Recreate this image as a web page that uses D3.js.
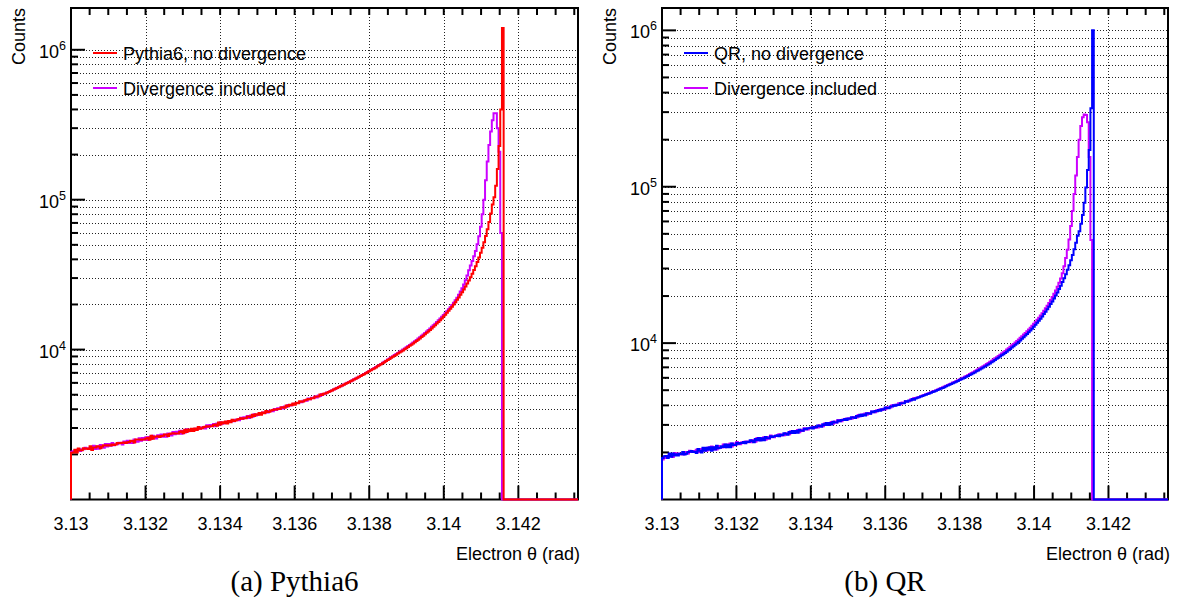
<!DOCTYPE html>
<html>
<head>
<meta charset="utf-8">
<script src="https://cdn.jsdelivr.net/npm/d3@7"></script>
<style>
  html, body { margin: 0; padding: 0; background: #fff; }
  svg { display: block; }
  .sans { font-family: "Liberation Sans", Arial, Helvetica, sans-serif; }
  .serif { font-family: "Liberation Serif", "Times New Roman", serif; }
</style>
</head>
<body>
<svg id="chart" width="1177" height="607"></svg>
<script>
// Histogram binning: 300 equal bins over the theta range (rad)
const thetaMin = 3.13;
const thetaMax = 3.1436;
const nBins = 300;

const xMajorTicks = [3.13, 3.132, 3.134, 3.136, 3.138, 3.14, 3.142];
const xTickLabels = ["3.13", "3.132", "3.134", "3.136", "3.138", "3.14", "3.142"];
const yDecadeTicks = [1e4, 1e5, 1e6];
const yDecadeExponents = ["4", "5", "6"];

// Bin contents (counts per bin, starting at 3.13); bins not listed are empty
const pythiaNoDiv = [
  2050,2060,2150,2060,2190,2130,2130,2200,2180,2190,
  2170,2270,2140,2220,2220,2270,2260,2200,2260,2300,
  2300,2290,2300,2290,2330,2310,2330,2380,2370,2380,
  2390,2400,2380,2410,2420,2470,2460,2400,2510,2510,
  2510,2500,2510,2510,2550,2580,2500,2660,2540,2620,
  2630,2640,2610,2650,2660,2710,2710,2650,2730,2760,
  2770,2760,2760,2760,2820,2850,2770,2920,2820,2930,
  2860,2970,2860,2980,2910,3050,2960,2990,3030,3060,
  3080,3070,3080,3080,3140,3170,3110,3260,3170,3270,
  3220,3320,3210,3340,3280,3410,3340,3360,3420,3450,
  3480,3460,3490,3490,3560,3580,3540,3680,3610,3710,
  3670,3770,3680,3800,3760,3890,3830,3850,3930,3950,
  3990,3980,4020,4020,4110,4130,4100,4240,4190,4290,
  4260,4370,4290,4420,4380,4520,4480,4500,4600,4620,
  4690,4670,4740,4730,4850,4870,4860,5010,4980,5080,
  5090,5160,5210,5280,5340,5410,5470,5540,5610,5690,
  5760,5830,5910,5980,6060,6140,6230,6310,6400,6480,
  6580,6670,6760,6860,6960,7060,7160,7270,7380,7490,
  7610,7730,7850,7980,8110,8240,8380,8520,8660,8810,
  8960,9100,9250,9400,9550,9710,9870,10040,10220,10400,
  10590,10780,10980,11190,11410,11640,11880,12120,12380,12650,
  12930,13220,13530,13850,14180,14530,14910,15300,15710,16140,
  16600,17080,17600,18140,18720,19340,20000,20710,21480,22290,
  23180,24140,25180,26310,27550,28910,30410,32080,33950,36040,
  38410,41110,44220,47840,52100,57200,63400,71100,81000,93000,
  104000,124000,160000,228000,400000,1400000
];
const pythiaDiv = [
  2080,2100,2130,2140,2160,2110,2160,2160,2210,2190,
  2170,2210,2230,2280,2170,2260,2180,2310,2270,2210,
  2350,2260,2350,2280,2380,2300,2340,2340,2390,2380,
  2330,2440,2380,2470,2380,2460,2380,2510,2450,2430,
  2560,2470,2570,2500,2600,2490,2610,2530,2660,2600,
  2550,2680,2620,2710,2620,2710,2620,2760,2740,2670,
  2820,2720,2830,2760,2870,2750,2880,2800,2940,2850,
  2880,2920,2950,2960,2950,2960,2960,3020,3050,2980,
  3130,3040,3140,3090,3190,3080,3210,3140,3270,3200,
  3220,3280,3300,3330,3310,3340,3330,3400,3420,3380,
  3510,3440,3540,3500,3600,3500,3630,3570,3700,3640,
  3660,3730,3760,3800,3770,3820,3810,3900,3910,3880,
  4020,3960,4060,4030,4130,4050,4180,4140,4270,4230,
  4250,4330,4360,4410,4400,4450,4460,4550,4580,4560,
  4710,4660,4770,4760,4870,4800,4940,4910,5060,5030,
  5100,5170,5220,5290,5350,5420,5480,5560,5620,5700,
  5770,5850,5920,6000,6070,6160,6240,6330,6410,6500,
  6600,6690,6780,6880,6980,7090,7190,7300,7410,7530,
  7650,7770,7890,8020,8160,8290,8430,8580,8730,8880,
  9040,9190,9340,9500,9660,9830,10000,10170,10360,10550,
  10750,10950,11160,11380,11610,11850,12100,12360,12630,12910,
  13210,13520,13840,14180,14530,14900,15280,15680,16100,16540,
  17000,17480,18000,18560,19150,19800,20500,21300,22200,23200,
  24400,25700,27200,29000,31200,33800,36400,39000,42000,45500,
  50500,57000,66000,80000,100000,135000,180000,232000,285000,339000,
  377000,377000,300000,209000,60000,0
];
const qrNoDiv = [
  1840,1890,1900,1840,1970,1880,1970,1910,1950,1910,
  1960,1950,2010,1940,1960,2010,2020,2040,2010,2020,
  1980,2100,2050,2000,2140,2050,2140,2080,2160,2050,
  2160,2090,2210,2130,2140,2190,2170,2250,2160,2240,
  2160,2280,2230,2230,2300,2270,2300,2300,2330,2290,
  2340,2330,2390,2370,2320,2440,2390,2470,2380,2460,
  2390,2510,2460,2460,2540,2510,2540,2550,2580,2540,
  2590,2580,2650,2630,2590,2700,2660,2740,2660,2740,
  2670,2790,2750,2750,2830,2810,2850,2850,2890,2840,
  2910,2900,2970,2950,2920,3030,2990,3080,3000,3080,
  3020,3140,3110,3110,3200,3170,3220,3220,3270,3220,
  3290,3280,3360,3340,3320,3420,3400,3480,3420,3490,
  3450,3560,3550,3540,3650,3610,3680,3670,3740,3690,
  3780,3760,3870,3840,3830,3940,3940,4010,3970,4040,
  4020,4130,4130,4130,4250,4220,4300,4300,4390,4340,
  4430,4470,4510,4550,4590,4640,4680,4720,4770,4820,
  4870,4910,4960,5020,5070,5120,5170,5230,5290,5350,
  5410,5470,5530,5590,5660,5730,5800,5870,5940,6010,
  6090,6170,6250,6330,6420,6500,6600,6690,6780,6880,
  6980,7090,7200,7310,7420,7540,7670,7790,7930,8060,
  8200,8350,8500,8660,8820,8990,9170,9360,9550,9750,
  9960,10180,10410,10650,10900,11170,11440,11740,12040,12370,
  12710,13090,13480,13900,14340,14820,15330,15870,16450,17080,
  17760,18490,19290,20150,21100,22150,23300,24580,26000,27610,
  29420,31490,33870,36650,39910,43820,48570,52000,58000,66000,
  79000,99000,128000,172000,318000,1000000
];
const qrDiv = [
  1800,1840,1890,1880,1940,1920,1870,1980,1940,1970,
  1950,1960,1940,2010,1970,1970,2050,2010,2040,2040,
  2080,2010,2100,2040,2110,2090,2050,2150,2100,2180,
  2090,2160,2090,2200,2160,2150,2250,2160,2250,2190,
  2280,2180,2280,2220,2330,2260,2260,2320,2320,2350,
  2320,2350,2320,2390,2400,2340,2470,2390,2470,2420,
  2500,2410,2510,2450,2570,2500,2500,2570,2570,2610,
  2570,2600,2580,2650,2650,2610,2730,2660,2740,2700,
  2780,2690,2790,2740,2850,2800,2800,2870,2870,2920,
  2870,2920,2890,2980,2980,2940,3060,3000,3080,3050,
  3130,3050,3150,3110,3220,3170,3170,3250,3250,3300,
  3260,3310,3280,3370,3370,3350,3470,3410,3490,3470,
  3550,3480,3580,3550,3660,3620,3620,3720,3720,3780,
  3740,3810,3780,3890,3890,3880,4000,3960,4040,4040,
  4120,4060,4170,4150,4270,4240,4250,4360,4370,4450,
  4450,4490,4530,4570,4620,4660,4710,4750,4800,4850,
  4900,4950,5000,5050,5110,5160,5220,5280,5340,5400,
  5460,5520,5590,5650,5720,5790,5860,5940,6010,6090,
  6170,6250,6340,6430,6520,6610,6710,6810,6910,7010,
  7120,7230,7350,7470,7590,7720,7850,7990,8130,8280,
  8430,8590,8750,8920,9100,9280,9480,9680,9880,10100,
  10330,10560,10810,11070,11340,11620,11920,12230,12560,12910,
  13280,13670,14090,14540,15020,15540,16100,16700,17350,18060,
  18840,19700,20650,21700,22900,24300,25900,28000,31000,35000,
  39500,46000,56000,70000,90000,118000,155000,200000,245000,278000,
  290000,288000,258000,155000,45700,0
];

const panels = [
  {
    left: 71, right: 578, top: 8, bottom: 499.5, yMin: 1000, yMax: 1.9e6,
    caption: "(a) Pythia6",
    series: [
      { name: "Divergence included", values: pythiaDiv, color: "#cc00ff" },
      { name: "Pythia6, no divergence", values: pythiaNoDiv, color: "#ff0000" }
    ],
    legendOrder: [1, 0]
  },
  {
    left: 662, right: 1168, top: 8, bottom: 499.5, yMin: 1000, yMax: 1.39e6,
    caption: "(b) QR",
    series: [
      { name: "Divergence included", values: qrDiv, color: "#cc00ff" },
      { name: "QR, no divergence", values: qrNoDiv, color: "#0000ff" }
    ],
    legendOrder: [1, 0]
  }
];

const svg = d3.select("#chart");

function drawPanel(p) {
  const g = svg.append("g");
  const x = d3.scaleLinear().domain([thetaMin, thetaMax]).range([p.left, p.right]);
  const y = d3.scaleLog().domain([p.yMin, p.yMax]).range([p.bottom, p.top]);
  const binW = (thetaMax - thetaMin) / nBins;

  // dotted grid: every 1..9 x 10^n horizontally, major theta ticks vertically
  const yGrid = [];
  for (let e = 3; e <= 6; e++) for (let k = 1; k <= 9; k++) {
    const v = k * Math.pow(10, e);
    if (v > p.yMin * 1.001 && v < p.yMax) yGrid.push(v);
  }
  const grid = g.append("g").attr("stroke", "#222").attr("stroke-width", 1)
    .attr("stroke-dasharray", "1 2");
  grid.selectAll("line.h").data(yGrid).join("line").attr("class", "h")
    .attr("x1", p.left).attr("x2", p.right)
    .attr("y1", d => Math.round(y(d)) + 0.5).attr("y2", d => Math.round(y(d)) + 0.5);
  grid.selectAll("line.v").data(xMajorTicks.slice(1)).join("line").attr("class", "v")
    .attr("x1", d => Math.round(x(d)) + 0.5).attr("x2", d => Math.round(x(d)) + 0.5)
    .attr("y1", p.top).attr("y2", p.bottom);

  // frame
  g.append("rect").attr("x", p.left).attr("y", p.top)
    .attr("width", p.right - p.left).attr("height", p.bottom - p.top)
    .attr("fill", "none").attr("stroke", "#000").attr("stroke-width", 2);

  // x ticks: majors every 0.002, minors every 0.0005
  const xMinor = d3.range(0, 28).map(i => thetaMin + i * 0.0005).filter(v => v <= thetaMax);
  const ticks = g.append("g").attr("stroke", "#000").attr("stroke-width", 2);
  ticks.selectAll("line.xb").data(xMinor).join("line").attr("class", "xb")
    .attr("x1", d => x(d)).attr("x2", d => x(d))
    .attr("y1", p.bottom)
    .attr("y2", (d, i) => p.bottom - (i % 4 === 0 ? 14 : 7));
  ticks.selectAll("line.xt").data(xMinor).join("line").attr("class", "xt")
    .attr("x1", d => x(d)).attr("x2", d => x(d))
    .attr("y1", p.top).attr("y2", p.top + 7);

  // y ticks on the left axis
  const yMinor = [];
  for (let e = 3; e <= 6; e++) for (let k = 1; k <= 9; k++) {
    const v = k * Math.pow(10, e);
    if (v > p.yMin * 1.001 && v < p.yMax) yMinor.push({ v, major: k === 1 });
  }
  ticks.selectAll("line.y").data(yMinor).join("line").attr("class", "y")
    .attr("x1", p.left).attr("x2", d => p.left + (d.major ? 14 : 7))
    .attr("y1", d => y(d.v)).attr("y2", d => y(d.v));

  // tick labels
  g.selectAll("text.xl").data(xMajorTicks).join("text").attr("class", "xl sans")
    .attr("x", d => x(d)).attr("y", p.bottom + 30)
    .attr("text-anchor", "middle").attr("font-size", 18).attr("fill", "#000")
    .text((d, i) => xTickLabels[i]);

  const yl = g.selectAll("text.yl").data(yDecadeTicks).join("text").attr("class", "yl sans")
    .attr("x", p.left - 5).attr("y", d => y(d) + 8)
    .attr("text-anchor", "end").attr("font-size", 18).attr("fill", "#000");
  yl.append("tspan").text("10");
  yl.append("tspan").attr("dy", -8).attr("font-size", 12.5).text((d, i) => yDecadeExponents[i]);

  // axis titles
  g.append("text").attr("class", "sans")
    .attr("transform", `translate(${p.left - 46},${p.top}) rotate(-90)`)
    .attr("text-anchor", "end").attr("font-size", 18).text("Counts");
  g.append("text").attr("class", "sans")
    .attr("x", p.right + 2).attr("y", 560)
    .attr("text-anchor", "end").attr("font-size", 18).text("Electron \u03b8 (rad)");

  // histograms as step outlines
  const clipId = "clip" + p.left;
  svg.append("clipPath").attr("id", clipId).append("rect")
    .attr("x", p.left - 2).attr("y", p.top).attr("width", p.right - p.left + 4)
    .attr("height", p.bottom - p.top + 2);
  function stepPath(vals) {
    const path = d3.path();
    path.moveTo(x(thetaMin), p.bottom);
    for (let i = 0; i < nBins; i++) {
      const v = i < vals.length ? vals[i] : 0;
      const yy = v > 0 ? y(v) : p.bottom;
      path.lineTo(x(thetaMin + i * binW), yy);
      path.lineTo(x(thetaMin + (i + 1) * binW), yy);
    }
    path.lineTo(x(thetaMax), p.bottom);
    return path.toString();
  }
  const hg = g.append("g").attr("clip-path", `url(#${clipId})`);
  hg.selectAll("path").data(p.series).join("path")
    .attr("d", d => stepPath(d.values))
    .attr("fill", "none").attr("stroke", d => d.color).attr("stroke-width", 2)
    .attr("stroke-linejoin", "miter");

  // legend
  const lg = g.append("g");
  p.legendOrder.forEach((si, k) => {
    const s = p.series[si];
    const ly = 53 + k * 35;
    lg.append("line").attr("x1", p.left + 22).attr("x2", p.left + 46)
      .attr("y1", ly).attr("y2", ly).attr("stroke", s.color).attr("stroke-width", 2);
    lg.append("text").attr("class", "sans").attr("x", p.left + 52).attr("y", ly + 6.5)
      .attr("font-size", 18).attr("fill", "#000").text(s.name);
  });

  // caption below the panel
  svg.append("text").attr("class", "serif")
    .attr("x", (p.left + p.right) / 2 - 30).attr("y", 591)
    .attr("text-anchor", "middle").attr("font-size", 29).attr("fill", "#000")
    .text(p.caption);
}

panels.forEach(drawPanel);
</script>
</body>
</html>
